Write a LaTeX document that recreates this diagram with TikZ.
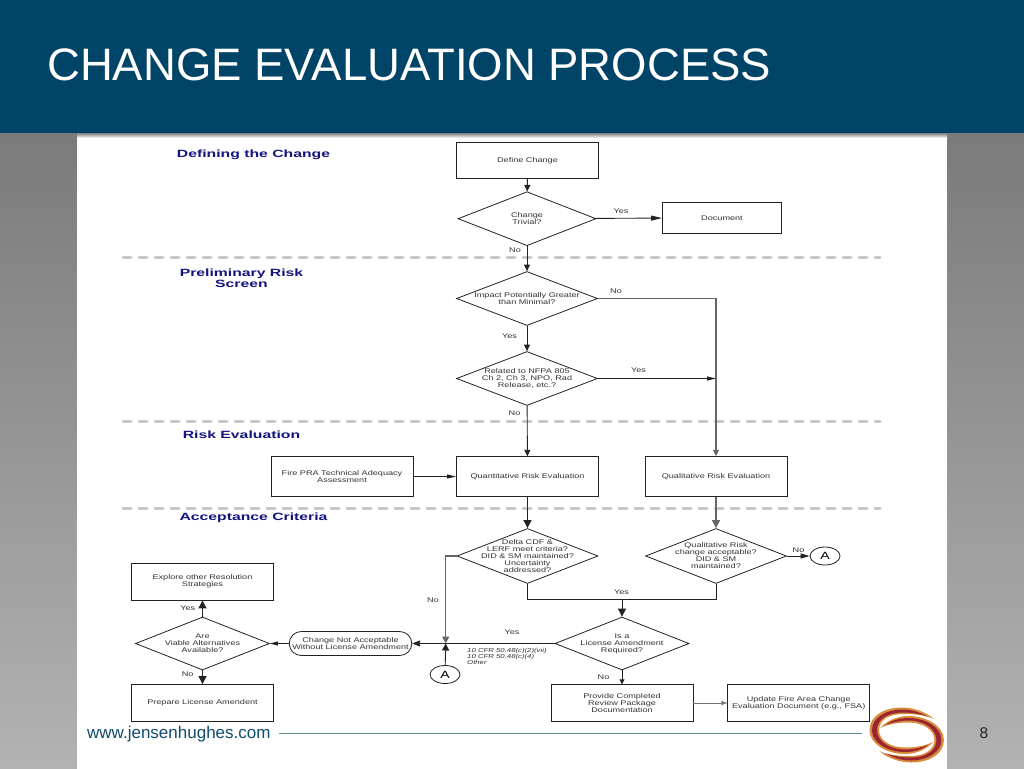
\documentclass[tikz,border=0pt]{standalone}
\usepackage{fontspec}
\setmainfont{Liberation Sans}
\newfontfamily\chartfont[FakeStretch=1.34]{Liberation Sans}
\newfontfamily\headfont[FakeStretch=1.5]{Liberation Sans}
\usetikzlibrary{arrows.meta,shapes.geometric,shapes.misc}
\definecolor{headerblue}{HTML}{004468}
\definecolor{headnavy}{HTML}{14147F}
\definecolor{flowline}{HTML}{222222}
\definecolor{bandgray}{HTML}{C8C8C8}
\definecolor{footblue}{HTML}{0F4C6E}
\definecolor{footline}{HTML}{5F8D96}
\definecolor{logoorange}{HTML}{D98B3C}
\definecolor{logored}{HTML}{9A2532}
\tikzset{
    chart/.style={font=\chartfont\fontsize{6.8}{7}\selectfont, align=center, text=black!80},
    stepbox/.style={draw=flowline, line width=0.9pt, rectangle, chart, minimum width=#1, minimum height=36.5pt, inner sep=0pt},
    stepbox/.default=142pt,
    decision/.style={draw=flowline, line width=0.8pt, diamond, chart, minimum width=#1, minimum height=54pt, inner sep=0pt},
    decision/.default=141pt,
    answer/.style={chart},
    phase/.style={font=\headfont\bfseries\fontsize{10.5}{11.5}\selectfont, align=center, text=headnavy},
    band/.style={bandgray, line width=3pt, line cap=round, dash pattern=on 8pt off 8pt},
    flow/.style={flowline, line width=0.9pt, ->},
    bigflow/.style={flow, >={Triangle[length=8pt,width=8pt]}},
    trunk/.style={black!60, line width=1.3pt, ->},
    connector/.style={draw=flowline, line width=0.8pt, ellipse, minimum width=30pt, minimum height=18pt, inner sep=0pt, font=\chartfont\fontsize{10.5}{11}\selectfont}
}
\begin{document}
\begin{tikzpicture}[x=1pt, y=-1pt, >={Triangle[length=6.5pt,width=6pt]}]

    \useasboundingbox (0,0) rectangle (1024,768);

    % Slide background
    \shade[top color=black!52, bottom color=black!30] (-4,133) rectangle (1028,772);
    \fill[white] (77,133) rectangle (947,772);
    \shade[top color=black!50, bottom color=white] (77,133) rectangle (947,138);
    \fill[headerblue] (-4,-4) rectangle (1028,133);
    \node[text=white, font=\fontsize{45.5}{50}\selectfont, anchor=west, inner sep=0pt] (title) at (47,64.5) {CHANGE EVALUATION PROCESS};

    % Phase separators
    \draw[band] (123,257.5) -- (880,257.5);
    \draw[band] (123,421) -- (880,421);
    \draw[band] (123,508.5) -- (880,508.5);

    % Phase headings
    \node[phase] (defining) at (253.5,155) {Defining the Change};
    \node[phase] (prelim) at (241.5,278) {Preliminary Risk\\Screen};
    \node[phase] (riskeval) at (241.5,435) {Risk Evaluation};
    \node[phase] (accept) at (253.5,518) {Acceptance Criteria};

    % Steps in the centre column
    \node[stepbox] (define) at (527.5,160.5) {Define Change};
    \node[decision=138pt, label={[chart, name=trivialtext]center:Change\\Trivial?}] (trivial) at (527,218.7) {};
    \node[stepbox=119pt, minimum height=31pt] (document) at (722,217.8) {Document};
    \node[decision, label={[chart, name=impacttext]center:Impact Potentially Greater\\than Minimal?}] (impact) at (527,298.5) {};
    \node[decision, label={[chart, name=relatedtext]center:Related to NFPA 805\\Ch 2, Ch 3, NPO, Rad\\Release, etc.?}] (related) at (527,378.5) {};

    % Risk evaluation row
    \node[stepbox, minimum height=39.5pt] (firepra) at (342,476.5) {Fire PRA Technical Adequacy\\Assessment};
    \node[stepbox, minimum height=39.5pt] (quant) at (527.5,476.5) {Quantitative Risk Evaluation};
    \node[stepbox, minimum height=39.5pt] (qual) at (716,476.5) {Qualitative Risk Evaluation};

    % Acceptance decisions
    \node[decision, minimum height=55pt, label={[chart, name=deltatext]center:Delta CDF \&\\LERF meet criteria?\\DID \& SM maintained?\\Uncertainty\\addressed?}] (delta) at (527.5,556) {};
    \node[decision, minimum height=55pt, label={[chart, name=qualtext]center:Qualitative Risk\\change acceptable?\\DID \& SM\\maintained?}] (qualcheck) at (716,556) {};
    \node[connector] (aright) at (825,556) {A};
    \node[decision=134pt, minimum height=53pt, label={[chart, name=licensetext]center:Is a\\License Amendment\\Required?}] (license) at (622,643.5) {};
    \node[draw=flowline, line width=0.8pt, rounded rectangle, chart, minimum width=122.5pt, minimum height=24pt, inner sep=0pt] (notaccept) at (350.5,643.5) {Change Not Acceptable\\Without License Amendment};
    \node[connector] (aleft) at (445,674.5) {A};
    \coordinate (merge) at (445.7,643.5);

    % Left column
    \node[decision=134pt, minimum height=53pt, label={[chart, name=viabletext]center:Are\\Viable Alternatives\\Available?}] (viable) at (202.5,643.5) {};
    \node[stepbox] (explore) at (202.5,581.7) {Explore other Resolution\\Strategies};
    \node[stepbox] (prepare) at (202.5,702.8) {Prepare License Amendent};

    % Bottom right boxes
    \node[stepbox] (provide) at (622,703) {Provide Completed\\Review Package\\Documentation};
    \node[stepbox] (update) at (798.7,703) {Update Fire Area Change\\Evaluation Document (e.g., FSA)};

    % Connectors
    \draw[flow] (define) -- (trivial);
    \draw[flow, >={Triangle[length=11pt,width=5pt]}] (trivial) -- (document);
    \draw[flow] (trivial) -- (impact);
    \draw[flow] (impact) -- (related);
    \draw[trunk] (impact.east) -| (qual.north);
    \draw[flow, >={Triangle[length=9pt,width=4pt]}] (related.east) -- (related.east -| qual.north);
    \draw[flow] (related) -- (quant);
    \draw[flow, >={Triangle[length=9pt,width=4pt]}] (firepra) -- (quant);
    \draw[bigflow] (quant) -- (delta);
    \draw[trunk, >={Triangle[length=8pt,width=8pt]}] (qual) -- (qualcheck);

    \draw[flow, >={Triangle[length=9pt,width=5pt]}] (qualcheck) -- (aright);
    \draw[bigflow] (delta.south) |- (622,599.7) -- (license.north);
    \draw[flowline, line width=0.9pt] (qualcheck.south) |- (622,599.7);
    \draw[trunk, >={Triangle[length=7pt,width=7pt]}] (delta.west) -| (merge);
    \draw[flow, >={Triangle[length=7pt,width=7pt]}] (aleft) -- (merge);
    \draw[flow, >={Triangle[length=8pt,width=6pt]}] (license.west) -- (notaccept.east);
    \draw[flow, >={Triangle[length=8pt,width=4pt]}] (notaccept.west) -- (viable.east);
    \draw[bigflow] (viable) -- (explore);
    \draw[bigflow] (viable) -- (prepare);
    \draw[flow, >={Triangle[length=5pt,width=5pt]}] (license) -- (provide);
    \draw[flow, black!55, line width=0.6pt, >={Triangle[length=6pt,width=4pt]}] (provide) -- (update);

    % Answers on the connectors
    \node[answer] (ans1) at (621,211) {Yes};
    \node[answer] (ans2) at (515,250.5) {No};
    \node[answer] (ans3) at (616,291) {No};
    \node[answer] (ans4) at (509.5,336.5) {Yes};
    \node[answer] (ans5) at (638.5,370.5) {Yes};
    \node[answer] (ans6) at (514.5,413) {No};
    \node[answer] (ans7) at (433,600) {No};
    \node[answer] (ans8) at (621.5,592) {Yes};
    \node[answer] (ans9) at (512,632.5) {Yes};
    \node[answer] (ans10) at (798.5,550) {No};
    \node[answer] (ans11) at (603.5,677.5) {No};
    \node[answer] (ans12) at (187.7,608) {Yes};
    \node[answer] (ans13) at (187.7,673.7) {No};
    \node[chart, anchor=north west, align=left, inner sep=0pt, font=\chartfont\itshape\fontsize{5.8}{6}\selectfont] (cfr) at (467,648) {10 CFR 50.48(c)(2)(vii)\\10 CFR 50.48(c)(4)\\Other};

    % Footer
    \node[text=footblue, font=\fontsize{17}{18}\selectfont, anchor=west, inner sep=0pt] (site) at (87,734) {www.jensenhughes.com};
    \coordinate (footend) at (862,733.7);
    \draw[footline, line width=0.9pt] (279,733.7) -- (footend);
    \node[font=\fontsize{15.5}{16}\selectfont, text=black!85] (pagenum) at (984,733) {8};

    % Logo swooshes
    \foreach \turn in {0,180} {
        \begin{scope}[rotate around={\turn:(906.7,735)}]
            \fill[logoorange] (934,719) .. controls (925,711) and (912,707.5) .. (902,707.5) .. controls (884,707.5) and (869.5,716) .. (869.5,730) .. controls (869.5,744) and (887,754) .. (905,754) .. controls (918,754) and (928,748) .. (933,742) .. controls (925,746) and (915,747.5) .. (905,747.5) .. controls (890,747.5) and (879,740) .. (879,730) .. controls (879,720) and (889,714) .. (903,714) .. controls (915,714) and (926,715) .. (934,719) -- cycle;
            \fill[logored] (928,717) .. controls (918,711) and (910,709.5) .. (902,709.5) .. controls (886,709.5) and (872,718) .. (872,730) .. controls (872,743) and (888,752) .. (905,752) .. controls (915,752) and (923,749) .. (928,745) .. controls (920,748) and (912,749.5) .. (905,749.5) .. controls (889,749.5) and (877,741) .. (877,730) .. controls (877,719) and (888,712.5) .. (903,712.5) .. controls (912,712.5) and (921,714) .. (928,717) -- cycle;
        \end{scope}
    }

\end{tikzpicture}
\end{document}
